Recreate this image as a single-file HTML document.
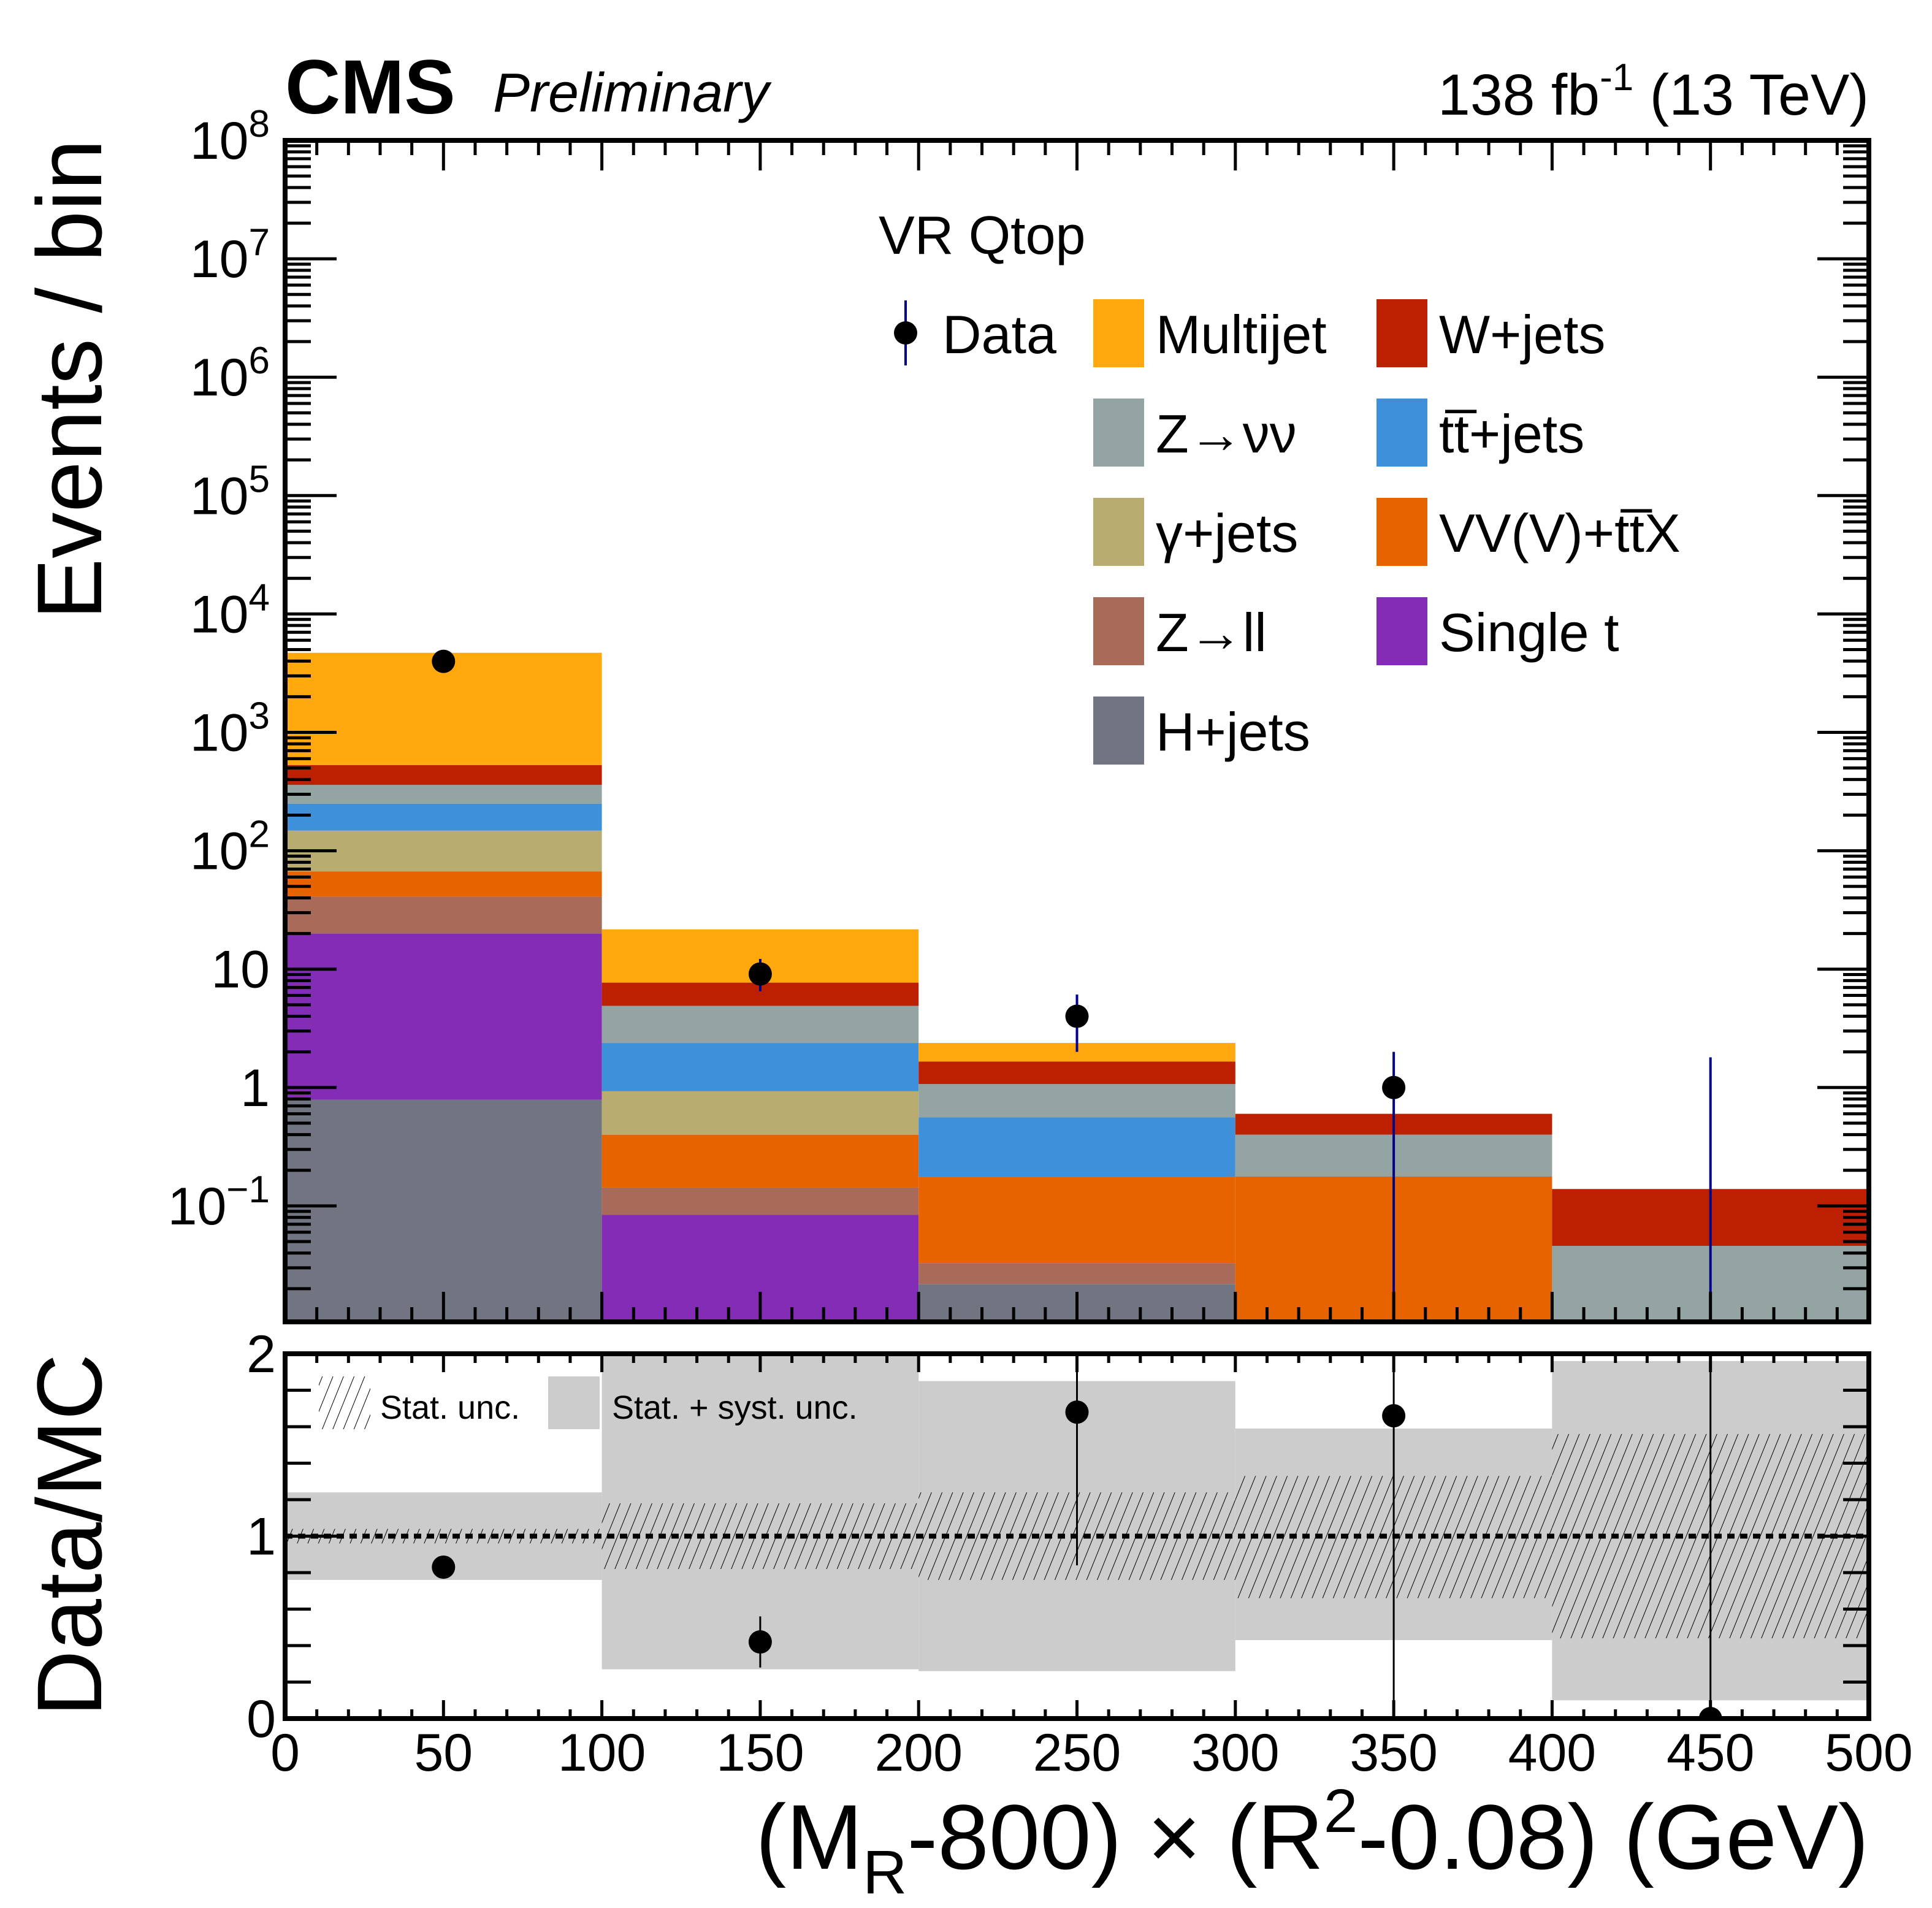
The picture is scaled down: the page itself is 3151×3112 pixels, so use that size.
<!DOCTYPE html>
<html><head><meta charset="utf-8">
<style>
html,body{margin:0;padding:0;background:#fff;}
svg{display:block;font-family:"Liberation Sans",sans-serif;}
</style></head>
<body>
<svg id="chart" width="3151" height="3112" viewBox="0 0 3151 3112" xmlns="http://www.w3.org/2000/svg">
<defs>
<clipPath id="mainClip"><rect x="465" y="229" width="2583" height="1927"/></clipPath>
<clipPath id="ratioClip"><rect x="465" y="2208" width="2583" height="595"/></clipPath>
<pattern id="hatch" patternUnits="userSpaceOnUse" width="16" height="16" patternTransform="rotate(22)">
<line x1="0" y1="0" x2="0" y2="16" stroke="#000" stroke-width="2"/>
</pattern>
</defs>
<rect x="0" y="0" width="3151" height="3112" fill="#fff"/>
<g id="mainStack" clip-path="url(#mainClip)"></g>
<g id="mainData"></g>
<g id="ratioBands" clip-path="url(#ratioClip)"></g>
<g id="ratioData" clip-path="url(#ratioClip)"></g>
<g id="axes"></g>

<text x="465" y="185" font-size="125" font-weight="bold">CMS</text>
<text x="804" y="182" font-size="90" font-style="italic">Preliminary</text>
<text x="3048" y="187" font-size="95" text-anchor="end">138 fb<tspan dy="-40" font-size="62">-1</tspan><tspan dy="40"> (13 TeV)</tspan></text>

<text x="1433" y="414" font-size="88">VR Qtop</text>

<g id="legend">
<g>
<line x1="1477" y1="490" x2="1477" y2="596" stroke="#00008b" stroke-width="4"/>
<circle cx="1477" cy="543" r="19" fill="#000"/>
<text x="1537" y="576" font-size="88">Data</text></g>
</g>

<text transform="translate(165,227) rotate(-90)" font-size="150" text-anchor="end">Events / bin</text>
<text transform="translate(165,2208) rotate(-90)" font-size="150" text-anchor="end">Data/MC</text>
<text x="3048" y="3048" font-size="150" text-anchor="end">(M<tspan dy="40" font-size="100">R</tspan><tspan dy="-40">-800)</tspan> × (R<tspan dy="-60" font-size="100">2</tspan><tspan dy="60">-0.08) (GeV)</tspan></text>

<g>
<rect x="520" y="2245" width="84" height="86" fill="url(#hatch)"/>
<text x="620" y="2314" font-size="54">Stat. unc.</text>
<rect x="894" y="2245" width="84" height="86" fill="#cccccc"/>
<text x="998" y="2314" font-size="54">Stat. + syst. unc.</text>
</g>
</svg>
<script>
// ---- data ----
const binEdges = [0, 100, 200, 300, 400, 500];
const processNames = ["H+jets","Single t","Z\u2192ll","VV(V)+t\u0074\u0305X","\u03b3+jets","t\u0074\u0305+jets","Z\u2192\u03bd\u03bd","W+jets","Multijet"];
const processColors = ["#717581","#832db6","#a96b59","#e76300","#b9ac70","#3f90da","#94a4a2","#bd1f01","#ffa90e"];
const hJets   = [0.79, 0.001, 0.0219, 0, 0];
const singleT = [19.2, 0.083, 0, 0, 0];
const zll     = [21, 0.059, 0.011, 0, 0];
const vvv     = [26, 0.257, 0.144, 0.177, 0];
const gJets   = [81, 0.53, 0, 0, 0];
const ttJets  = [102, 1.45, 0.383, 0, 0];
const zvv     = [110, 2.52, 0.51, 0.223, 0.046];
const wJets   = [170, 2.8, 0.59, 0.20, 0.093];
const multijet= [4170, 14, 0.72, 0, 0];
const dataVals = [3980, 9.1, 4.0, 1.0, 0];
const dataErrLo = [3900, 6.5, 2.0, 0, 0];
const dataErrHi = [4060, 12.2, 6.1, 2.0, 1.8];
const ratioVals = [0.83, 0.42, 1.68, 1.66, 0];
const ratioErrLo = [0.81, 0.28, 0.84, 0, 0];
const ratioErrHi = [0.85, 0.56, 2.5, 2.5, 2.5];
const systLo = [0.76, 0.27, 0.26, 0.43, 0.10];
const systHi = [1.24, 1.99, 1.85, 1.59, 1.96];
const statLo = [0.96, 0.82, 0.76, 0.66, 0.44];
const statHi = [1.04, 1.18, 1.24, 1.33, 1.56];
const mainTickBases = ["10","1","10","10","10","10","10","10","10","10"];
const mainTickExps = ["\u22121","","","2","3","4","5","6","7","8"];
const xTickLabels = ["0","50","100","150","200","250","300","350","400","450","500"];
const ratioTickLabels = ["0","1","2"];

// ---- scales ----
const X0=465, X1=3048, YT=229, YB=2156, RT=2208, RB=2803;
const LOGMAX=8, DEC=193.1;
function xs(v){return X0+(v-0)/500*(X1-X0);}
function ys(v){ if(v<=0) return YB+10; return Math.min(YB+10, YT+(LOGMAX-Math.log10(v))*DEC);}
function yr(v){return RB-v/2*(RB-RT);}
const NS="http://www.w3.org/2000/svg";
function mk(tag,attrs,parent){const e=document.createElementNS(NS,tag);for(const k in attrs)e.setAttribute(k,attrs[k]);parent.appendChild(e);return e;}

// ---- stack ----
const series=[hJets,singleT,zll,vvv,gJets,ttJets,zvv,wJets,multijet];
const gStack=document.getElementById('mainStack');
for(let b=0;b<5;b++){
  let cum=0;
  for(let p=0;p<series.length;p++){
    const v=series[p][b]; if(v<=0) continue;
    const lo=cum, hi=cum+v; cum=hi;
    const yTop=ys(hi), yBot=ys(lo);
    const r=mk('rect',{x:xs(binEdges[b]),y:yTop,width:xs(binEdges[b+1])-xs(binEdges[b]),height:Math.max(0,yBot-yTop),fill:processColors[p]},gStack);
    
    
  }
}
// ---- main data ----
const gData=document.getElementById('mainData');
for(let b=0;b<5;b++){
  const cx=xs((binEdges[b]+binEdges[b+1])/2);
  const l=mk('line',{x1:cx,x2:cx,y1:ys(dataErrHi[b]),y2:Math.min(YB,ys(dataErrLo[b])),stroke:'#00008b','stroke-width':4},gData);
  
  
  if(dataVals[b]>0){
    const c=mk('circle',{cx:cx,cy:ys(dataVals[b]),r:19,fill:'#000'},gData);
    
    
  }
}
// ---- ratio ----
const gBand=document.getElementById('ratioBands');
for(let b=0;b<5;b++){
  const x=xs(binEdges[b]), w=xs(binEdges[b+1])-x;
  const s=mk('rect',{x:x,y:yr(systHi[b]),width:w,height:yr(systLo[b])-yr(systHi[b]),fill:'#cccccc'},gBand);
  
  
  const h=mk('rect',{x:x,y:yr(statHi[b]),width:w,height:yr(statLo[b])-yr(statHi[b]),fill:'url(#hatch)'},gBand);
  
  
}
const dl=mk('line',{x1:X0,x2:X1,y1:yr(1),y2:yr(1),stroke:'#000','stroke-width':8,'stroke-dasharray':'12 9'},gBand);


const gR=document.getElementById('ratioData');
for(let b=0;b<5;b++){
  const cx=xs((binEdges[b]+binEdges[b+1])/2);
  const l=mk('line',{x1:cx,x2:cx,y1:yr(ratioErrHi[b]),y2:yr(ratioErrLo[b]),stroke:'#000','stroke-width':3},gR);
  
  
  const c=mk('circle',{cx:cx,cy:yr(ratioVals[b]),r:19,fill:'#000'},gR);
  
  
}
// ---- axes ----
const gA=document.getElementById('axes');
function frame(y0,y1,name){const r=mk('rect',{x:X0,y:y0,width:X1-X0,height:y1-y0,fill:'none',stroke:'#000','stroke-width':8},gA);
  
  }
frame(YT,YB,'main-frame'); frame(RT,RB,'ratio-frame');
function tk(x1,y1,x2,y2){mk('line',{x1:x1,y1:y1,x2:x2,y2:y2,stroke:'#000','stroke-width':5},gA);}
for(let v=0;v<=500;v+=10){
  const x=xs(v), major=(v%50===0), L=major?49:24, Lr=major?30:15;
  tk(x,YT,x,YT+L); tk(x,YB,x,YB-L);
  tk(x,RT,x,RT+Lr); tk(x,RB,x,RB-Lr);
}
for(let e=-2;e<8;e++){
  for(let m=1;m<10;m++){
    const v=m*Math.pow(10,e); const y=ys(v);
    if(y<YT-1||y>YB) continue;
    const L=(m===1)?84:42;
    tk(X0,y,X0+L,y); tk(X1,y,X1-L,y);
  }
}
tk(X0,YT,X0+84,YT); tk(X1,YT,X1-84,YT);
for(let i=0;i<mainTickBases.length;i++){
  const v=Math.pow(10,i-1), y=ys(v);
  const t=mk('text',{x:440,y:y+30,'font-size':86,'text-anchor':'end'},gA);
  
  
  const b=mk('tspan',{},t); b.textContent=mainTickBases[i];
  if(mainTickExps[i]){const s=mk('tspan',{dy:-36,'font-size':62},t); s.textContent=mainTickExps[i];}
}
for(let k=0;k<=10;k++){
  const v=k*0.2, y=yr(v), L=(k%5===0)?84:42;
  tk(X0,y,X0+L,y); tk(X1,y,X1-L,y);
}
for(let i=0;i<ratioTickLabels.length;i++){
  const y=yr(i);
  const t=mk('text',{x:450,y:y+30,'font-size':86,'text-anchor':'end'},gA);
  t.textContent=ratioTickLabels[i];
  
  
}
for(let i=0;i<xTickLabels.length;i++){
  const t=mk('text',{x:xs(i*50),y:2888,'font-size':86,'text-anchor':'middle'},gA);
  t.textContent=xTickLabels[i];
  
  
}
// ---- legend ----
const gL=document.getElementById('legend');
const legendOrder=[[8,0,0],[6,0,1],[4,0,2],[2,0,3],[0,0,4],[7,1,0],[5,1,1],[3,1,2],[1,1,3]];
for(const [p,col,row] of legendOrder){
  const sx=col===0?1783:2245, sy=488+row*162;
  const r=mk('rect',{x:sx,y:sy,width:83,height:111,fill:processColors[p]},gL);
  
  
  const t=mk('text',{x:sx+102,y:sy+88,'font-size':88},gL);
  t.textContent=processNames[p];
  
  
}
</script>
</body></html>
